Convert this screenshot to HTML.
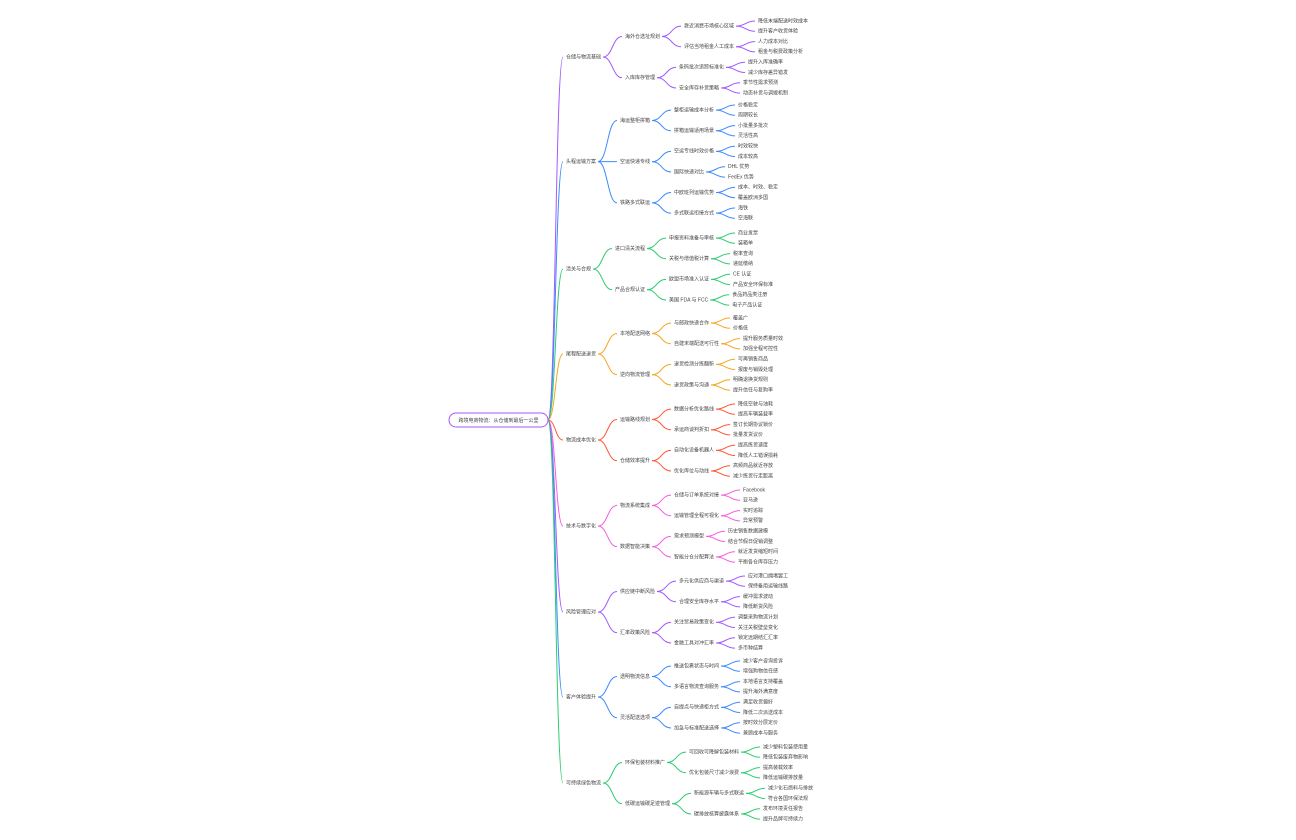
<!DOCTYPE html>
<html><head><meta charset="utf-8">
<style>
html,body{margin:0;padding:0;background:#fff;}
svg{display:block;}
text{font-family:"Liberation Sans","Noto Sans CJK SC",sans-serif;font-size:5px;fill:#444;dominant-baseline:middle;}
</style></head>
<body>
<svg id="s" width="1296" height="840" viewBox="0 0 1296 840"></svg>
<script>
const C=['#a259ff','#3d8bfd','#2ecc71','#f5a623','#ff5733','#f55ee0','#a259ff','#3d8bfd','#2ecc71'];
const starts=[21,105,233,318,404,490,576,661,747];
const step=10.3;
const data=[
["仓储与物流基础",[["海外仓选址规划",[["靠近消费市场核心区域",["降低末端配送时效成本","提升客户收货体验"]],["评估当地租金人工成本",["人力成本对比","租金与税费政策分析"]]]],["入库库存管理",[["条码批次追踪标准化",["提升入库准确率","减少库存差异错发"]],["安全库存补货策略",["季节性需求预测","动态补货与调拨机制"]]]]]],
["头程运输方案",[["海运整柜拼箱",[["整柜运输成本分析",["价格稳定","周期较长"]],["拼箱运输适用场景",["小批量多批次","灵活性高"]]]],["空运快递专线",[["空运专线时效价格",["时效较快","成本较高"]],["国际快递对比",["DHL 优势","FedEx 优势"]]]],["铁路多式联运",[["中欧班列运输优势",["成本、时效、稳定","覆盖欧洲多国"]],["多式联运衔接方式",["海铁","空海联"]]]]]],
["清关与合规",[["进口清关流程",[["申报资料准备与审核",["商业发票","装箱单"]],["关税与增值税计算",["税率查询","递延缴纳"]]]],["产品合规认证",[["欧盟市场准入认证",["CE 认证","产品安全环保标准"]],["美国 FDA 与 FCC",["食品药品类注册","电子产品认证"]]]]]],
["尾程配送退货",[["本地配送网络",[["与邮政快递合作",["覆盖广","价格低"]],["自建末端配送可行性",["提升服务质量时效","加强全程可控性"]]]],["逆向物流管理",[["退货检测分拣翻新",["可再销售商品","报废与销毁处理"]],["退货政策与沟通",["明确退换货规则","提升信任与复购率"]]]]]],
["物流成本优化",[["运输路线规划",[["数据分析优化路线",["降低空驶与油耗","提高车辆装载率"]],["承运商谈判折扣",["签订长期协议锁价","批量发货议价"]]]],["仓储效率提升",[["自动化设备机器人",["提高拣货速度","降低人工错误损耗"]],["优化库位与动线",["高频商品就近存放","减少拣货行走距离"]]]]]],
["技术与数字化",[["物流系统集成",[["仓储与订单系统对接",["Facebook","亚马逊"]],["运输管理全程可视化",["实时追踪","异常预警"]]]],["数据智能决策",[["需求预测模型",["历史销售数据建模","结合节假日促销调整"]],["智能分仓分配算法",["就近发货缩短时间","平衡各仓库存压力"]]]]]],
["风险管理应对",[["供应链中断风险",[["多元化供应商与渠道",["应对港口拥堵罢工","保持备用运输线路"]],["合理安全库存水平",["缓冲需求波动","降低断货风险"]]]],["汇率政策风险",[["关注贸易政策变化",["调整采购物流计划","关注关税壁垒变化"]],["金融工具对冲汇率",["锁定远期结汇汇率","多币种结算"]]]]]],
["客户体验提升",[["透明物流信息",[["推送包裹状态与时间",["减少客户咨询投诉","增强购物信任感"]],["多语言物流查询服务",["本地语言支持覆盖","提升海外满意度"]]]],["灵活配送选项",[["自提点与快递柜方式",["满足收货偏好","降低二次派送成本"]],["加急与标准配送选择",["按时效分层定价","兼顾成本与服务"]]]]]],
["可持续绿色物流",[["环保包装材料推广",[["可回收可降解包装材料",["减少塑料包装使用量","降低包装废弃物影响"]],["优化包装尺寸减少浪费",["提高装载效率","降低运输碳排放量"]]]],["低碳运输碳足迹管理",[["新能源车辆与多式联运",["减少化石燃料与排放","符合各国环保法规"]],["碳排放核算披露体系",["发布环境责任报告","提升品牌可持续力"]]]]]]
];
const NS='http://www.w3.org/2000/svg';
const svg=document.getElementById('s');
const gl=document.createElementNS(NS,'g'),gt=document.createElementNS(NS,'g');
svg.appendChild(gl);svg.appendChild(gt);
function txt(x,y,s,extra){const t=document.createElementNS(NS,'text');t.setAttribute('x',x);t.setAttribute('y',y);t.textContent=s;gt.appendChild(t);if(extra)for(const k in extra)t.setAttribute(k,extra[k]);return t.getComputedTextLength();}
function curve(x1,y1,x2,y2,c){const p=document.createElementNS(NS,'path');const m=(x1+x2)/2;p.setAttribute('d',`M${x1} ${y1} C${m} ${y1},${m} ${y2},${x2} ${y2}`);p.setAttribute('fill','none');p.setAttribute('stroke',c);p.setAttribute('stroke-width','1');gl.appendChild(p);}
function layoutNode(node,ctr){
  if(typeof node==='string'){const y=ctr.y;ctr.y+=step;return {t:node,y:y,k:[]};}
  const kids=node[1].map(n=>layoutNode(n,ctr));
  return {t:node[0],y:(kids[0].y+kids[kids.length-1].y)/2,k:kids};
}
function draw(n,x,c){
  const w=txt(x,n.y,n.t);
  const cx=x+w+24;
  n.k.forEach(k=>{curve(x+w+2,n.y,cx-3,k.y,c);draw(k,cx,c);});
}
const rootY=420;
const rr=document.createElementNS(NS,'rect');
rr.setAttribute('x',449);rr.setAttribute('y',413);rr.setAttribute('width',99);rr.setAttribute('height',14);rr.setAttribute('rx',7);rr.setAttribute('fill','#fff');rr.setAttribute('stroke','#a259ff');rr.setAttribute('stroke-width','1');
gt.appendChild(rr);
txt(498.5,420.5,'跨境电商物流：从仓储到最后一公里',{'text-anchor':'middle'});
data.forEach((b,i)=>{
  const n=layoutNode(b,{y:starts[i]});
  curve(548,rootY,563,n.y,C[i]);
  draw(n,566,C[i]);
});
</script>
</body></html>
